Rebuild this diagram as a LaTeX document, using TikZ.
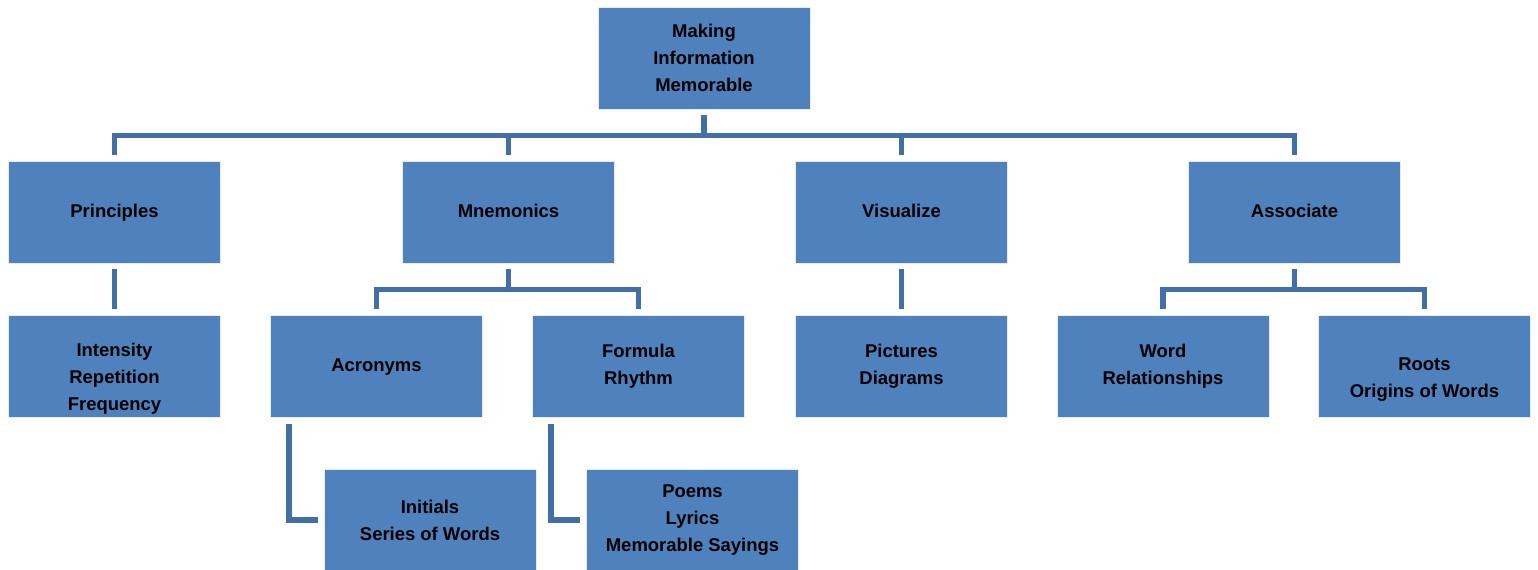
\documentclass[tikz,border=0pt]{standalone}
\usepackage{fontspec}
\setmainfont{Liberation Sans}
\usetikzlibrary{positioning, calc}

\definecolor{boxblue}{HTML}{4F81BD}
\definecolor{linkblue}{HTML}{4170A6}

\begin{document}
\begin{tikzpicture}[
    x=0.02cm, y=-0.02cm,
    box/.style={rectangle, fill=boxblue, draw=white!85!boxblue, line width=0.4pt,
                minimum width=4.24cm, minimum height=2.04cm, align=center,
                font=\fontsize{10.5}{15.3}\selectfont\bfseries},
    link/.style={draw=linkblue, line width=3.1pt, shorten <=0.12cm, shorten >=0.12cm}
]

    \useasboundingbox (0,0) rectangle (1538,569);

    % Root
    \node[box] (top) at (704,58) {Making\\Information\\Memorable};

    % Second level
    \node[box] (prin) at (114.5,212) {Principles\strut};
    \node[box] (mnem) at (508.5,212) {Mnemonics\strut};
    \node[box] (vis) at (901.5,212) {Visualize\strut};
    \node[box] (assoc) at (1294.5,212) {Associate\strut};

    % Third level
    \node[box, label={[align=center, font=\fontsize{10.5}{15.3}\selectfont\bfseries, yshift=-0.25cm]center:{Intensity\\Repetition\\Frequency}}] (inten) at (114.5,366.5) {};
    \node[box] (acro) at (376.5,366.5) {Acronyms\strut};
    \node[box] (form) at (638.5,366.5) {Formula\\Rhythm};
    \node[box] (pict) at (901.5,366.5) {Pictures\\Diagrams};
    \node[box] (word) at (1163,366.5) {Word\\Relationships};
    \node[box, label={[align=center, font=\fontsize{10.5}{15.3}\selectfont\bfseries, yshift=-0.26cm]center:{Roots\\Origins of Words}}] (roots) at (1424.5,366.5) {};

    % Fourth level
    \node[box] (init) at (430,520) {Initials\\Series of Words};
    \node[box] (poem) at (692.5,520) {Poems\\Lyrics\\Memorable Sayings};

    % Root to second level
    \draw[link] (top.south) -- ++(0,26) -| (prin.north);
    \draw[link] (top.south) -- ++(0,26) -| (mnem.north);
    \draw[link] (top.south) -- ++(0,26) -| (vis.north);
    \draw[link] (top.south) -- ++(0,26) -| (assoc.north);

    % Second to third level
    \draw[link] (prin.south) -- (inten.north);
    \draw[link] (mnem.south) -- ++(0,26) -| (acro.north);
    \draw[link] (mnem.south) -- ++(0,26) -| (form.north);
    \draw[link] (vis.south) -- (pict.north);
    \draw[link] (assoc.south) -- ++(0,26) -| (word.north);
    \draw[link] (assoc.south) -- ++(0,26) -| (roots.north);

    % Third to fourth level
    \draw[link] ($(acro.south west)+(19,0)$) |- (init.west);
    \draw[link] ($(form.south west)+(19,0)$) |- (poem.west);

\end{tikzpicture}
\end{document}
